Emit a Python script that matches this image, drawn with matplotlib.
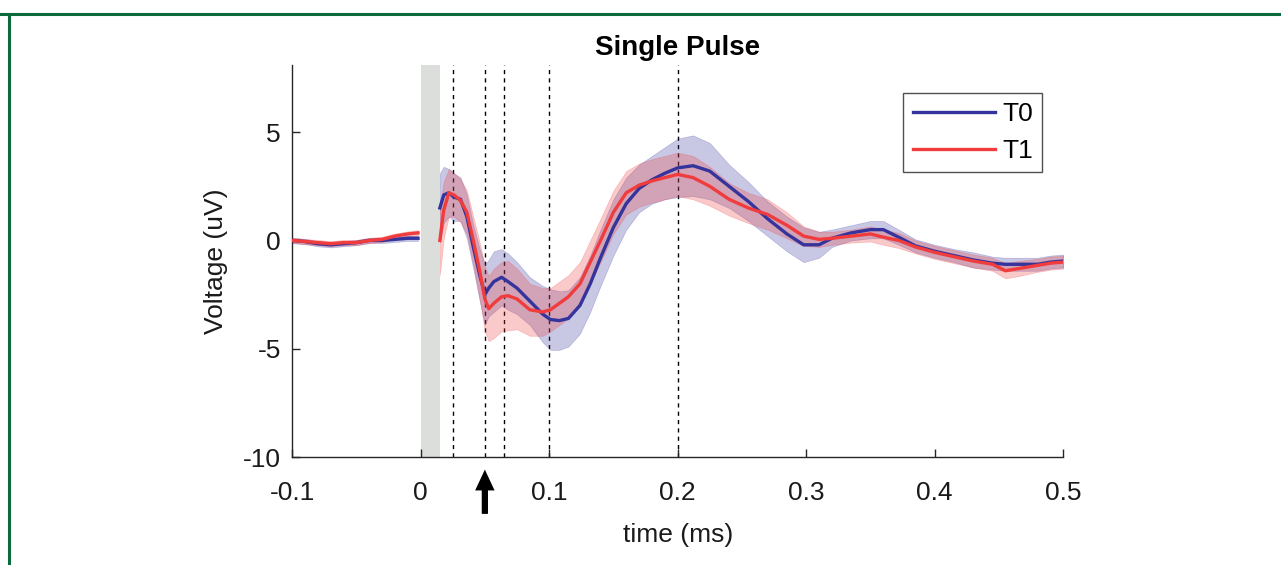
import numpy as np
import matplotlib as mpl
mpl.use("Agg")
import matplotlib.pyplot as plt
from matplotlib.lines import Line2D

mpl.rcParams.update({
    "font.family": "sans-serif",
    "font.sans-serif": ["Liberation Sans", "Arial", "DejaVu Sans"],
})

# pre-stimulus segment
t_pre = [-0.1, -0.09, -0.08, -0.07, -0.06, -0.05, -0.04, -0.03, -0.02, -0.01, -0.002]
t0_pre = [0.0, -0.05, -0.15, -0.2, -0.15, -0.1, 0.0, 0.0, 0.05, 0.1, 0.1]
t1_pre = [0.0, -0.05, -0.1, -0.15, -0.1, -0.1, 0.0, 0.05, 0.2, 0.3, 0.35]
t0_pre_err = [0.12] * len(t_pre)
t1_pre_err = [0.12] * len(t_pre)

# post-stimulus segment
t_post = [0.015, 0.018, 0.022, 0.026, 0.031, 0.036, 0.041, 0.046, 0.050, 0.053,
          0.057, 0.063, 0.068, 0.075, 0.085, 0.095, 0.101, 0.108, 0.115, 0.124,
          0.132, 0.140, 0.150, 0.160, 0.170, 0.180, 0.190, 0.200, 0.212, 0.225,
          0.240, 0.255, 0.270, 0.285, 0.298, 0.310, 0.320, 0.335, 0.350, 0.360,
          0.372, 0.385, 0.400, 0.415, 0.430, 0.445, 0.455, 0.465, 0.480, 0.490,
          0.500]
t0_post = [1.5, 2.1, 2.2, 2.0, 1.9, 1.1, -0.3, -1.6, -2.5, -2.2,
           -1.9, -1.7, -1.9, -2.2, -2.8, -3.4, -3.65, -3.7, -3.6, -3.0,
           -2.0, -0.8, 0.6, 1.7, 2.4, 2.8, 3.1, 3.35, 3.45, 3.2,
           2.5, 1.8, 1.0, 0.3, -0.2, -0.2, 0.1, 0.35, 0.5, 0.5,
           0.15, -0.25, -0.5, -0.7, -0.9, -1.05, -1.1, -1.1, -1.1, -1.0,
           -0.95]
t1_post = [0.0, 1.4, 2.2, 2.1, 1.85, 1.3, 0.0, -1.4, -2.7, -3.15,
           -2.9, -2.6, -2.55, -2.7, -3.2, -3.3, -3.2, -2.9, -2.6, -2.0,
           -1.0, 0.0, 1.3, 2.2, 2.55, 2.75, 2.9, 3.05, 2.9, 2.5,
           1.9, 1.5, 1.2, 0.7, 0.2, 0.05, 0.1, 0.2, 0.3, 0.15,
           0.0, -0.3, -0.55, -0.75, -0.95, -1.1, -1.4, -1.3, -1.15, -1.05,
           -1.0]
t0_post_err = [1.6, 1.3, 1.1, 1.1, 1.0, 1.0, 1.0, 1.2, 1.4, 1.3,
               1.4, 1.3, 1.3, 1.2, 1.1, 1.3, 1.4, 1.35, 1.3, 1.3,
               1.3, 1.3, 1.3, 1.2, 1.1, 1.1, 1.2, 1.35, 1.4, 1.3,
               1.0, 0.9, 0.8, 0.8, 0.8, 0.6, 0.4, 0.35, 0.4, 0.4,
               0.35, 0.3, 0.3, 0.3, 0.35, 0.3, 0.3, 0.3, 0.3, 0.3,
               0.3]
t1_post_err = [1.6, 1.3, 1.1, 1.0, 1.0, 1.0, 1.1, 1.3, 1.5, 1.5,
               1.6, 1.6, 1.6, 1.4, 1.2, 1.1, 1.0, 1.0, 1.0, 1.0,
               1.0, 1.0, 1.0, 1.0, 1.0, 1.0, 1.0, 1.0, 1.0, 0.9,
               0.75, 0.7, 0.7, 0.6, 0.45, 0.35, 0.3, 0.3, 0.35, 0.35,
               0.35, 0.3, 0.3, 0.3, 0.3, 0.3, 0.35, 0.35, 0.3, 0.3,
               0.3]

event_times = [0.025, 0.05, 0.065, 0.1, 0.2]
arrow_time = 0.05
blank_span = (0.0, 0.015)

blue = '#34349c'
red = '#f03c3c'

fig = plt.figure(figsize=(12.81, 5.65), dpi=100)
ax = fig.add_axes([0.228, 0.191, 0.602, 0.694])

ax.axvspan(blank_span[0], blank_span[1], color='#dcdedc', lw=0, zorder=0)
for t in event_times:
    ax.axvline(t, color='black', ls=(0, (3, 3)), lw=1.0, zorder=1)

segments = [
    (t_pre, t0_pre, t0_pre_err, t1_pre, t1_pre_err),
    (t_post, t0_post, t0_post_err, t1_post, t1_post_err),
]
for t, m0, e0, m1, e1 in segments:
    t = np.array(t)
    m0, e0, m1, e1 = map(np.array, (m0, e0, m1, e1))
    ax.fill_between(t, m0 - e0, m0 + e0, facecolor=blue, alpha=0.27,
                    edgecolor=blue, lw=0.5, zorder=2)
    ax.fill_between(t, m1 - e1, m1 + e1, facecolor=red, alpha=0.27,
                    edgecolor=red, lw=0.5, zorder=2)
    ax.plot(t, m0, color=blue, lw=2.4, zorder=3)
    ax.plot(t, m1, color=red, lw=2.4, zorder=4)

ax.set_xlim(-0.1, 0.5)
ax.set_ylim(-10, 8.1)
ax.set_xticks([-0.1, 0, 0.1, 0.2, 0.3, 0.4, 0.5])
ax.set_xticklabels(['-0.1', '0', '0.1', '0.2', '0.3', '0.4', '0.5'])
ax.set_yticks([-10, -5, 0, 5])
ax.set_yticklabels(['-10', '-5', '0', '5'])

for s in ['top', 'right']:
    ax.spines[s].set_visible(False)
for s in ['left', 'bottom']:
    ax.spines[s].set_color('#262626')
    ax.spines[s].set_linewidth(1.0)
ax.tick_params(axis='both', direction='in', length=6, width=1.0,
               colors='#262626', labelsize=19, labelcolor='#1a1a1a')
ax.tick_params(axis='x', pad=17)
ax.tick_params(axis='y', pad=8)

ax.set_title('Single Pulse', fontsize=20, fontweight='bold', pad=7)
ax.set_xlabel('time (ms)', fontsize=19, labelpad=13, color='#1a1a1a')
ax.set_ylabel('Voltage (uV)', fontsize=19, labelpad=11, color='#1a1a1a')

handles = [Line2D([], [], color=blue, lw=2.4), Line2D([], [], color=red, lw=2.4)]
leg = ax.legend(handles, ['T0', 'T1'], loc='upper right', bbox_to_anchor=(0.973, 0.929),
                fontsize=19, frameon=True, fancybox=False, handlelength=3.1,
                handletextpad=0.3, borderpad=0.35, labelspacing=0.5, borderaxespad=0)
leg.get_frame().set_edgecolor('#262626')
leg.get_frame().set_linewidth(1.0)

# arrow below the axis
ax.annotate('', xy=(arrow_time, -10.45), xycoords='data',
            xytext=(arrow_time, -12.75), textcoords='data',
            arrowprops=dict(arrowstyle='simple,head_length=1.5,head_width=1.4,tail_width=0.45',
                            color='black', lw=0),
            annotation_clip=False)

# green frame lines (top and left)
fig.add_artist(Line2D([0, 1], [1 - 13.5 / 565, 1 - 13.5 / 565], color='#0b6b3c', lw=2.2,
                      transform=fig.transFigure))
fig.add_artist(Line2D([9 / 1281, 9 / 1281], [0, 1 - 13.5 / 565], color='#0b6b3c', lw=2.2,
                      transform=fig.transFigure))

fig.savefig('out.png', dpi=100)
